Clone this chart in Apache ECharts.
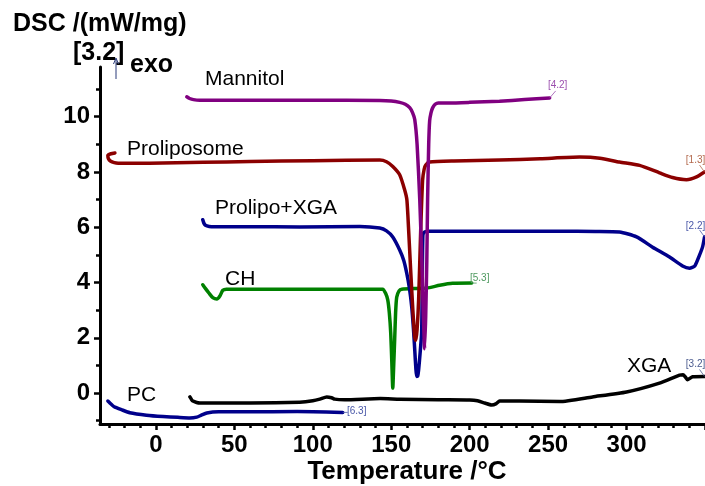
<!DOCTYPE html>
<html>
<head>
<meta charset="utf-8">
<script src="https://cdn.jsdelivr.net/npm/echarts@6/dist/echarts.min.js"></script>
<style>
  html, body { margin: 0; padding: 0; background: #fff; }
  #chart { width: 705px; height: 486px; }
</style>
</head>
<body>
<div id="chart"></div>
<script>
// DSC thermograms, heat flow vs temperature; curves are offset vertically for clarity.
// Each series: [temperature °C, DSC mW/mg]

const mannitol = [[19.7,10.72],[21.5,10.66],[24,10.62],[28,10.6],[60,10.6],[100,10.6],[142.7,10.59],[150,10.57],[155.4,10.52],[159,10.45],[161.8,10.33],[163.6,10.15],[165,9.9],[166.5,9.0],[168.2,7.0],[169.5,4.8],[170.5,2.8],[171.3,1.6],[172,2.8],[172.7,4.8],[173.2,7.0],[173.9,9.0],[174.5,9.85],[175.4,10.15],[176.4,10.32],[178,10.45],[180,10.5],[187,10.5],[200,10.52],[219,10.56],[235,10.62],[251,10.68]];

const proliposome = [[-26.1,8.69],[-28.6,8.66],[-30.6,8.6],[-30.2,8.48],[-29,8.4],[-26.5,8.34],[-24,8.32],[-4,8.32],[30,8.35],[60,8.38],[100,8.41],[142.7,8.43],[147,8.37],[151,8.2],[155.4,7.9],[158.6,7.35],[160,6.99],[161.2,5.8],[162.4,4.45],[163.8,3.0],[165,2.0],[165.7,1.9],[166.5,2.3],[167.5,3.4],[168.8,5.9],[170,7.7],[171,8.1],[172,8.25],[174.5,8.36],[190,8.4],[219,8.43],[245,8.48],[270,8.54],[283,8.5],[295.5,8.36],[308.3,8.24],[321,7.97],[329.3,7.8],[338.2,7.72],[344.6,7.82],[349.7,8.0]];

const prolipoXga = [[29.9,6.27],[30.6,6.15],[31.6,6.07],[34,6.03],[37.6,6.02],[60,6.02],[91.7,6.01],[130,6.03],[142.7,5.97],[147,5.87],[151,5.65],[155.4,5.18],[158,4.8],[159.9,4.34],[161.6,3.8],[163.1,3.1],[164.2,2.3],[165,1.56],[165.7,0.9],[166.2,0.6],[166.9,0.62],[167.5,0.85],[168.5,1.5],[169.4,2.2],[169.8,4.0],[170.2,5.7],[171,5.82],[173.2,5.86],[206,5.86],[257,5.86],[280,5.85],[295.5,5.83],[306.4,5.65],[316.6,5.28],[327.4,4.92],[335.7,4.6],[340.1,4.52],[343.5,4.6],[346.5,4.99],[348.5,5.3],[349.7,5.65]];

const cholesterol = [[29.9,3.92],[31.8,3.77],[33.8,3.62],[36.3,3.45],[38.9,3.4],[40.8,3.51],[42.7,3.72],[45,3.76],[47.1,3.76],[100,3.76],[144.6,3.76],[146.5,3.6],[147.8,3.37],[148.8,2.9],[149.7,2.17],[150.4,1.1],[151,0.18],[151.6,1.0],[152.2,1.92],[152.8,2.9],[153.5,3.47],[155,3.7],[156.7,3.76],[172.6,3.8],[180.9,3.9],[189.2,3.97],[201.3,3.98]];

const xga = [[21.7,-0.14],[22.8,-0.24],[23.6,-0.29],[26,-0.34],[28,-0.36],[60,-0.36],[91.7,-0.33],[100,-0.28],[104.5,-0.22],[108.9,-0.14],[112,-0.17],[114,-0.22],[120.4,-0.24],[143,-0.2],[155.4,-0.22],[180,-0.24],[200,-0.25],[205,-0.28],[209.6,-0.36],[214,-0.43],[217,-0.38],[219.1,-0.29],[231.8,-0.29],[257.3,-0.31],[278.3,-0.14],[300,0.04],[321,0.36],[333.8,0.65],[336,0.66],[337.5,0.58],[338.9,0.48],[340.5,0.54],[342,0.59],[349.7,0.6]];

const pc = [[-30.6,-0.29],[-29.3,-0.36],[-27.6,-0.45],[-26.1,-0.51],[-22,-0.6],[-16.6,-0.71],[-6,-0.8],[4.5,-0.85],[14,-0.88],[21.7,-0.9],[26.1,-0.87],[29,-0.8],[32.5,-0.72],[40,-0.68],[58,-0.68],[90,-0.67],[119.1,-0.7]];

const curveNames = ['Mannitol', 'Proliposome', 'Prolipo+XGA', 'CH', 'XGA', 'PC'];
const curveTags = ['[4.2]', '[1.3]', '[2.2]', '[5.3]', '[3.2]', '[6.3]'];

const xTickLabels = [0, 50, 100, 150, 200, 250, 300];
const xMinorTicks = [-30,-20,-10,0,10,20,30,40,50,60,70,80,90,100,110,120,130,140,150,160,170,180,190,200,210,220,230,240,250,260,270,280,290,300,310,320,330,340,350];
const xMajorTicks = [0, 50, 100, 150, 200, 250, 300, 350];
const yTickLabels = [0, 2, 4, 6, 8, 10];
const yMinorTicks = [-1,0,1,2,3,4,5,6,7,8,9,10,11];

const X_MIN = -35.6, X_MAX = 350;
const Y_MIN = -1.12, Y_MAX = 11.8;

const FONT = '"Liberation Sans", Arial, Helvetica, sans-serif';
const colors = ['#800080', '#8b0000', '#00008b', '#008000', '#000000', '#00008b'];
const tagColors = ['#9b4fae', '#b46a4e', '#4a58a8', '#4f9a60', '#4a5a8e', '#4a58a8'];

const chart = echarts.init(document.getElementById('chart'), null, { renderer: 'canvas' });

const axisLineStyle = { color: '#000', width: 3 };

const xAxisBase = {
  type: 'value', min: X_MIN, max: X_MAX, position: 'bottom',
  axisLine: { show: true, onZero: false, lineStyle: axisLineStyle },
  splitLine: { show: false }
};
const yAxisBase = {
  type: 'value', min: Y_MIN, max: Y_MAX, position: 'left',
  axisLine: { show: true, onZero: false, lineStyle: axisLineStyle },
  splitLine: { show: false }
};

const seriesData = [mannitol, proliposome, prolipoXga, cholesterol, xga, pc];

chart.setOption({
  animation: false,
  backgroundColor: '#fff',
  grid: { left: 100, right: 0, top: 67, bottom: 62, containLabel: false },
  xAxis: [
    Object.assign({}, xAxisBase, {
      axisTick: { show: true, inside: false, length: 4, customValues: xMinorTicks, lineStyle: { color: '#000', width: 2.5 } },
      axisLabel: {
        show: true, customValues: xTickLabels, margin: 9,
        color: '#000', fontFamily: FONT, fontWeight: 'bold', fontSize: 24
      }
    }),
    Object.assign({}, xAxisBase, {
      axisLine: { show: false, onZero: false },
      axisTick: { show: true, length: 6, customValues: xMajorTicks, lineStyle: { color: '#000', width: 2.5 } },
      axisLabel: { show: false }
    })
  ],
  yAxis: [
    Object.assign({}, yAxisBase, {
      axisTick: { show: true, inside: false, length: 4, customValues: yMinorTicks, lineStyle: { color: '#000', width: 2.5 } },
      axisLabel: {
        show: true, customValues: yTickLabels, margin: 10,
        color: '#000', fontFamily: FONT, fontWeight: 'bold', fontSize: 24
      }
    }),
    Object.assign({}, yAxisBase, {
      axisLine: { show: false, onZero: false },
      axisTick: { show: true, length: 6, customValues: yTickLabels, lineStyle: { color: '#000', width: 2.5 } },
      axisLabel: { show: false }
    })
  ],
  series: seriesData.map((d, i) => ({
    type: 'line',
    name: curveNames[i],
    xAxisIndex: 0, yAxisIndex: 0,
    data: d,
    showSymbol: false,
    symbol: 'none',
    smooth: 0.2,
    lineStyle: { color: colors[i], width: 3.5, cap: 'round', join: 'round' },
    z: 10 - i
  }))
});

// Curve name labels and headings
const curveLabelPos = [[205, 79], [127, 149], [215, 208], [225, 279], [627, 366], [127, 395]];
const graphics = [];

curveNames.forEach((name, i) => {
  graphics.push({
    type: 'text', x: curveLabelPos[i][0], y: curveLabelPos[i][1], z: 50,
    style: { text: name, font: '21px ' + FONT, fill: '#000', align: 'left', verticalAlign: 'middle' }
  });
});

graphics.push(
  { type: 'text', x: 13, y: 24, z: 50,
    style: { text: 'DSC /(mW/mg)', font: 'bold 25px ' + FONT, fill: '#000', align: 'left', verticalAlign: 'middle' } },
  { type: 'text', x: 73, y: 53, z: 50,
    style: { text: '[3.2]', font: 'bold 25px ' + FONT, fill: '#000', align: 'left', verticalAlign: 'middle' } },
  { type: 'text', x: 130, y: 65, z: 50,
    style: { text: 'exo', font: 'bold 25px ' + FONT, fill: '#000', align: 'left', verticalAlign: 'middle' } },
  { type: 'text', x: 407, y: 472, z: 50,
    style: { text: 'Temperature /°C', font: 'bold 26px ' + FONT, fill: '#000', align: 'center', verticalAlign: 'middle' } },
  // exo direction arrow
  { type: 'line', z: 50, shape: { x1: 116, y1: 79, x2: 116, y2: 59 }, style: { stroke: '#2a3a7a', lineWidth: 1 } },
  { type: 'polyline', z: 50, shape: { points: [[113.5, 64], [116, 58], [118.5, 64]] }, style: { stroke: '#2a3a7a', lineWidth: 1, fill: null } }
);

// Small segment tags at each curve's end point, with a short leader line
const tagOffsets = [[8, -13], [-9, -12], [-9, -11], [8, -5], [-9, -12], [14, -1]];
const leaderEnds = [[6, -7], [-5, -7], [-5, -7], [5, 0], [-5, -7], [5, 0]];
seriesData.forEach((d, i) => {
  const last = d[d.length - 1];
  const p = chart.convertToPixel({ xAxisIndex: 0, yAxisIndex: 0 }, last);
  graphics.push({
    type: 'text', x: p[0] + tagOffsets[i][0], y: p[1] + tagOffsets[i][1], z: 60,
    style: { text: curveTags[i], font: '10px ' + FONT, fill: tagColors[i], align: 'center', verticalAlign: 'middle' }
  });
  graphics.push({
    type: 'line', z: 60,
    shape: { x1: p[0], y1: p[1], x2: p[0] + leaderEnds[i][0], y2: p[1] + leaderEnds[i][1] },
    style: { stroke: tagColors[i], lineWidth: 0.8 }
  });
});

chart.setOption({ graphic: graphics });
</script>
</body>
</html>
